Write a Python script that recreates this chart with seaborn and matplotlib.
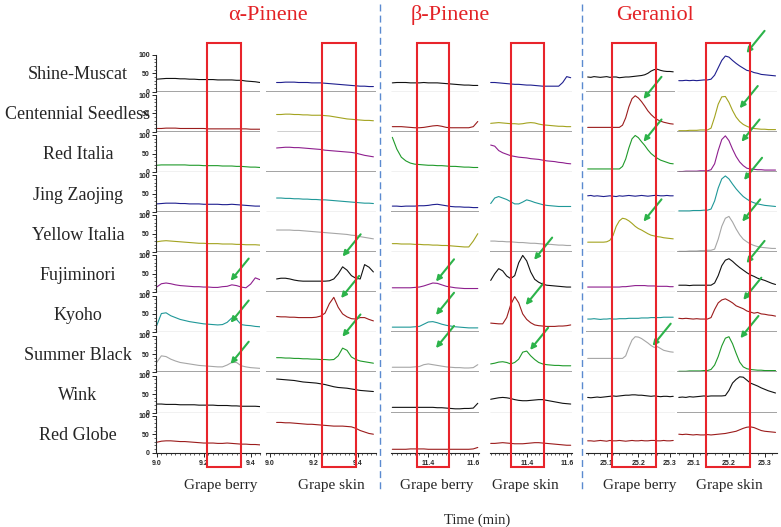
import matplotlib.pyplot as plt
import seaborn as sns
from matplotlib.patches import Rectangle
from matplotlib.lines import Line2D
from matplotlib.ticker import MultipleLocator
from matplotlib.transforms import blended_transform_factory

# ---------------------------------------------------------------------------
# Data (relative intensity, 0-100 per cultivar)
# ---------------------------------------------------------------------------
cultivars = ['Shine-Muscat', 'Centennial Seedless', 'Red Italia', 'Jing Zaojing',
             'Yellow Italia', 'Fujiminori', 'Kyoho', 'Summer Black', 'Wink', 'Red Globe']
compounds = ['α-Pinene', 'β-Pinene', 'Geraniol']
tissues = ['Grape berry', 'Grape skin']

# alpha-pinene, berry
t_apinene_berry = [9.00, 9.02, 9.04, 9.06, 9.08, 9.10, 9.12, 9.14, 9.16, 9.18, 9.20, 9.22,
                   9.24, 9.26, 9.28, 9.30, 9.32, 9.34, 9.36, 9.38, 9.40, 9.42, 9.44]
apinene_berry = [
    [34, 35, 36, 36, 36, 35, 35, 34, 34, 33, 33, 33, 33, 32, 32, 32, 32, 31, 31, 29, 28, 27, 25],
    [9, 9, 10, 10, 10, 9, 9, 9, 9, 9, 9, 8, 8, 8, 8, 8, 8, 8, 8, 8, 7, 7, 7],
    [18, 19, 19, 19, 19, 19, 19, 18, 18, 18, 17, 17, 17, 17, 16, 16, 16, 15, 15, 14, 13, 13, 12],
    [22, 23, 24, 24, 24, 23, 23, 22, 22, 22, 21, 21, 21, 21, 20, 20, 21, 20, 19, 18, 17, 16, 16],
    [28, 30, 31, 30, 29, 28, 27, 26, 25, 24, 24, 23, 23, 23, 22, 22, 22, 21, 21, 20, 20, 20, 19],
    [14, 23, 25, 23, 20, 18, 17, 16, 15, 15, 14, 14, 13, 13, 15, 16, 20, 18, 14, 12, 22, 39, 34],
    [18, 51, 53, 45, 40, 35, 32, 29, 27, 25, 23, 22, 21, 20, 21, 27, 39, 35, 21, 19, 18, 16, 15],
    [27, 45, 43, 36, 31, 27, 25, 23, 21, 19, 18, 17, 16, 15, 15, 20, 27, 27, 18, 15, 13, 12, 11],
    [23, 23, 22, 22, 22, 21, 21, 21, 21, 20, 20, 20, 20, 19, 19, 19, 18, 18, 17, 17, 17, 17, 16],
    [28, 31, 32, 32, 31, 30, 30, 29, 28, 27, 26, 26, 26, 25, 25, 26, 25, 24, 23, 23, 22, 22, 21],
]

# alpha-pinene, skin
t_apinene_skin = [9.03, 9.05, 9.07, 9.09, 9.11, 9.13, 9.15, 9.17, 9.19, 9.21, 9.23, 9.25,
                  9.27, 9.29, 9.31, 9.33, 9.35, 9.37, 9.39, 9.41, 9.43, 9.45, 9.47]
apinene_skin = [
    [25, 25, 26, 26, 26, 25, 25, 25, 24, 24, 24, 23, 22, 21, 20, 19, 18, 17, 16, 15, 15, 14, 14],
    [47, 47, 48, 48, 47, 47, 46, 46, 45, 45, 45, 44, 43, 41, 39, 37, 35, 34, 33, 32, 31, 31, 30],
    [65, 66, 67, 67, 66, 66, 65, 64, 63, 62, 61, 59, 58, 57, 56, 55, 54, 53, 51, 48, 45, 43, 41],
    [38, 38, 37, 37, 36, 36, 35, 35, 34, 34, 33, 33, 32, 31, 30, 29, 28, 27, 26, 25, 24, 24, 23],
    [60, 60, 60, 60, 59, 59, 58, 57, 56, 55, 54, 53, 52, 51, 50, 49, 48, 46, 45, 42, 40, 38, 36],
    [36, 38, 38, 36, 33, 31, 30, 30, 30, 30, 30, 30, 31, 36, 50, 69, 60, 45, 38, 36, 75, 68, 55],
    [43, 42, 42, 41, 41, 40, 40, 40, 40, 41, 44, 52, 78, 95, 68, 50, 42, 37, 36, 40, 40, 35, 31],
    [40, 40, 39, 39, 38, 38, 37, 37, 36, 36, 35, 35, 34, 35, 45, 66, 60, 42, 35, 31, 29, 27, 25],
    [91, 90, 89, 88, 87, 85, 83, 82, 81, 80, 78, 76, 73, 70, 68, 67, 66, 64, 62, 60, 59, 58, 57],
    [82, 82, 81, 81, 80, 79, 78, 77, 77, 76, 75, 74, 73, 72, 72, 72, 71, 70, 66, 60, 56, 52, 50],
]

# beta-pinene, berry
t_bpinene_berry = [11.24, 11.26, 11.28, 11.30, 11.32, 11.34, 11.36, 11.38, 11.40, 11.42,
                   11.44, 11.46, 11.48, 11.50, 11.52, 11.54, 11.56, 11.58, 11.60, 11.62]
bpinene_berry = [
    [24, 25, 25, 25, 24, 24, 24, 25, 24, 24, 24, 23, 22, 21, 20, 19, 18, 18, 17, 17],
    [14, 14, 14, 13, 12, 11, 11, 12, 14, 16, 17, 15, 12, 11, 11, 11, 11, 11, 14, 28],
    [94, 62, 40, 30, 24, 21, 20, 19, 18, 18, 17, 17, 16, 15, 15, 14, 13, 13, 12, 12],
    [16, 16, 15, 16, 16, 16, 17, 17, 18, 20, 21, 19, 17, 15, 14, 14, 13, 13, 12, 12],
    [23, 23, 22, 22, 22, 21, 21, 20, 20, 19, 19, 18, 18, 17, 16, 15, 14, 14, 30, 50],
    [12, 12, 12, 12, 12, 13, 14, 17, 21, 25, 24, 20, 16, 14, 12, 11, 10, 10, 10, 10],
    [14, 14, 14, 14, 14, 15, 16, 22, 28, 29, 26, 22, 19, 17, 15, 14, 13, 12, 12, 12],
    [14, 14, 14, 14, 14, 15, 16, 21, 23, 21, 19, 17, 15, 14, 13, 13, 12, 12, 13, 21],
    [14, 14, 14, 14, 14, 14, 14, 14, 14, 14, 13, 13, 12, 11, 10, 10, 11, 11, 12, 25],
    [9, 9, 9, 9, 10, 10, 10, 10, 9, 9, 9, 9, 9, 9, 9, 9, 9, 9, 10, 14],
]

# beta-pinene, skin
t_bpinene_skin = [11.22, 11.24, 11.26, 11.28, 11.30, 11.32, 11.34, 11.36, 11.38, 11.40, 11.42,
                  11.44, 11.46, 11.48, 11.50, 11.52, 11.54, 11.56, 11.58, 11.60, 11.62]
bpinene_skin = [
    [25, 25, 24, 23, 22, 21, 20, 20, 19, 18, 18, 17, 16, 15, 15, 15, 15, 15, 25, 41, 38],
    [23, 24, 25, 24, 23, 22, 22, 21, 22, 24, 25, 24, 21, 19, 18, 17, 16, 15, 15, 14, 14],
    [73, 70, 58, 52, 48, 44, 42, 40, 39, 38, 36, 35, 34, 32, 30, 29, 28, 26, 25, 23, 22],
    [23, 38, 42, 38, 34, 28, 22, 22, 27, 33, 30, 26, 23, 20, 18, 17, 16, 15, 15, 15, 15],
    [30, 30, 29, 29, 28, 28, 27, 26, 26, 25, 24, 24, 23, 22, 21, 21, 20, 19, 19, 18, 18],
    [32, 50, 64, 58, 44, 37, 45, 80, 100, 85, 55, 35, 27, 22, 19, 18, 17, 16, 15, 14, 14],
    [25, 24, 23, 23, 40, 75, 97, 80, 50, 35, 26, 20, 18, 17, 16, 16, 16, 17, 17, 18, 20],
    [23, 25, 28, 29, 27, 23, 27, 36, 55, 58, 45, 35, 27, 23, 21, 20, 19, 19, 18, 18, 18],
    [36, 38, 40, 41, 40, 38, 35, 33, 32, 32, 33, 34, 35, 35, 33, 31, 29, 27, 25, 24, 23],
    [25, 25, 26, 27, 26, 25, 24, 24, 24, 25, 26, 27, 27, 26, 25, 24, 23, 22, 21, 20, 20],
]

# geraniol, berry
t_geraniol_berry = [25.04, 25.05, 25.06, 25.07, 25.08, 25.09, 25.10, 25.11, 25.12, 25.13,
                    25.14, 25.15, 25.16, 25.17, 25.18, 25.19, 25.20, 25.21, 25.22, 25.23,
                    25.24, 25.25, 25.26, 25.27, 25.28, 25.29, 25.30, 25.31]
geraniol_berry = [
    [40, 39, 41, 40, 39, 40, 41, 39, 40, 40, 38, 39, 40, 40, 41, 42, 43, 44, 46, 50, 56, 60, 61, 58, 56, 55, 55, 54],
    [12, 12, 12, 12, 12, 12, 12, 12, 12, 12, 12, 18, 38, 68, 90, 98, 92, 82, 70, 57, 47, 39, 33, 29, 26, 24, 22, 21],
    [8, 8, 8, 8, 8, 8, 8, 8, 8, 8, 8, 15, 35, 65, 90, 99, 93, 82, 72, 60, 50, 43, 37, 32, 29, 26, 23, 22],
    [44, 45, 43, 44, 43, 42, 43, 44, 43, 42, 44, 43, 44, 45, 44, 43, 44, 45, 44, 43, 44, 45, 45, 44, 44, 45, 44, 44],
    [27, 27, 27, 27, 27, 27, 28, 32, 45, 70, 85, 92, 90, 85, 78, 70, 64, 60, 55, 50, 46, 44, 42, 41, 39, 38, 37, 36],
    [14, 14, 14, 14, 14, 14, 14, 14, 14, 14, 14, 15, 15, 16, 17, 18, 18, 18, 18, 17, 17, 17, 16, 16, 16, 16, 15, 15],
    [36, 36, 37, 36, 35, 36, 36, 37, 36, 36, 37, 37, 37, 38, 38, 38, 38, 39, 39, 39, 40, 40, 40, 40, 41, 41, 41, 41],
    [38, 38, 38, 38, 38, 38, 38, 38, 38, 38, 38, 38, 45, 68, 88, 97, 96, 92, 86, 80, 73, 68, 70, 65, 60, 58, 56, 55],
    [41, 40, 41, 42, 41, 42, 43, 44, 45, 44, 45, 46, 47, 47, 48, 48, 47, 47, 46, 45, 44, 45, 44, 43, 44, 44, 43, 44],
    [32, 32, 31, 32, 33, 32, 31, 33, 32, 32, 33, 32, 31, 32, 33, 32, 32, 33, 32, 32, 33, 33, 32, 32, 33, 32, 32, 33],
]

# geraniol, skin
t_geraniol_skin = [25.06, 25.07, 25.08, 25.09, 25.10, 25.11, 25.12, 25.13, 25.14, 25.15,
                   25.16, 25.17, 25.18, 25.19, 25.20, 25.21, 25.22, 25.23, 25.24, 25.25,
                   25.26, 25.27, 25.28, 25.29, 25.30, 25.31, 25.32, 25.33]
geraniol_skin = [
    [30, 30, 31, 30, 31, 30, 31, 32, 32, 34, 45, 65, 85, 97, 94, 85, 77, 70, 64, 58, 56, 52, 50, 47, 46, 45, 44, 43],
    [3, 3, 3, 4, 4, 4, 5, 5, 5, 10, 40, 75, 95, 96, 80, 58, 40, 28, 20, 15, 11, 9, 8, 7, 7, 6, 6, 6],
    [1, 1, 2, 2, 2, 2, 3, 3, 3, 6, 22, 58, 88, 98, 85, 62, 42, 27, 17, 10, 8, 7, 6, 6, 5, 5, 5, 5],
    [3, 3, 3, 3, 4, 4, 4, 5, 5, 8, 30, 65, 90, 98, 90, 76, 63, 52, 42, 35, 29, 25, 22, 20, 18, 17, 16, 15],
    [2, 2, 2, 3, 3, 3, 4, 4, 5, 5, 8, 35, 70, 92, 97, 82, 63, 47, 35, 28, 22, 18, 15, 13, 12, 11, 10, 10],
    [19, 19, 19, 18, 19, 19, 19, 19, 19, 19, 25, 45, 72, 87, 91, 84, 75, 67, 60, 53, 47, 43, 38, 35, 32, 28, 24, 21],
    [38, 37, 38, 37, 36, 37, 36, 36, 36, 40, 62, 80, 88, 91, 86, 80, 72, 68, 64, 58, 55, 52, 54, 50, 49, 47, 46, 44],
    [3, 3, 3, 4, 4, 4, 4, 5, 5, 8, 20, 43, 72, 93, 97, 78, 52, 28, 15, 10, 8, 7, 6, 6, 5, 5, 5, 5],
    [41, 42, 41, 43, 42, 43, 44, 45, 44, 45, 45, 45, 45, 46, 60, 80, 90, 97, 96, 88, 80, 76, 72, 67, 63, 59, 56, 53],
    [50, 49, 50, 49, 48, 49, 48, 48, 49, 48, 49, 50, 51, 52, 54, 56, 58, 62, 66, 69, 70, 68, 64, 60, 58, 57, 56, 55],
]

# integration windows (red boxes), min
windows = [(9.215, 9.357), (9.235, 9.39), (11.348, 11.493),
           (11.322, 11.487), (25.118, 25.256), (25.135, 25.258)]

# marked peaks (green arrows): (cultivar index, time, intensity)
peaks_apinene_berry = [(5, 9.315, 31), (6, 9.315, 26), (7, 9.315, 23)]
peaks_apinene_skin = [(5, 9.330, 97), (6, 9.323, 93), (7, 9.329, 97)]
peaks_bpinene_berry = [(5, 11.434, 29), (6, 11.434, 47), (7, 11.434, 66)]
peaks_bpinene_skin = [(5, 11.437, 88), (6, 11.395, 74), (7, 11.417, 61)]
peaks_geraniol_berry = [(1, 25.216, 89), (2, 25.216, 82), (4, 25.216, 83), (7, 25.245, 72)]
peaks_geraniol_skin = [(0, 25.249, 105), (1, 25.230, 64), (2, 25.235, 82), (3, 25.242, 87),
                       (4, 25.237, 83), (5, 25.249, 79), (6, 25.240, 88), (7, 25.232, 93)]

# ---------------------------------------------------------------------------
# Styling
# ---------------------------------------------------------------------------
sns.set_style('ticks')
plt.rcParams['font.family'] = ['Liberation Serif', 'DejaVu Serif']

berry_colors = ['#111111', '#9b1c1c', '#1f9a2a', '#1f1f8f', '#a3a31f',
                '#8e1f8e', '#1f9898', '#a6a6a6', '#111111', '#9b1c1c']
skin_colors = ['#1f1f8f', '#a3a31f', '#8e1f8e', '#1f9898', '#a6a6a6',
               '#111111', '#9b1c1c', '#1f9a2a', '#111111', '#9b1c1c']

columns = [
    dict(t=t_apinene_berry, y=apinene_berry, colors=berry_colors, peaks=peaks_apinene_berry,
         px=(155.5, 260.0), xlim=(8.995, 9.44), ticks=[9.0, 9.2, 9.4], minor=0.02, base='ggkggkkgk'),
    dict(t=t_apinene_skin, y=apinene_skin, colors=skin_colors, peaks=peaks_apinene_skin,
         px=(265.6, 375.6), xlim=(8.98, 9.48), ticks=[9.0, 9.2, 9.4], minor=0.02, base='gkgkggkgk'),
    dict(t=t_bpinene_berry, y=bpinene_berry, colors=berry_colors, peaks=peaks_bpinene_berry,
         px=(391.2, 478.9), xlim=(11.235, 11.625), ticks=[11.4, 11.6], minor=0.02, base='kgkgkkggg'),
    dict(t=t_bpinene_skin, y=bpinene_skin, colors=skin_colors, peaks=peaks_bpinene_skin,
         px=(489.7, 571.7), xlim=(11.215, 11.625), ticks=[11.4, 11.6], minor=0.02, base='kgkkgkkgk'),
    dict(t=t_geraniol_berry, y=geraniol_berry, colors=berry_colors, peaks=peaks_geraniol_berry,
         px=(586.1, 674.8), xlim=(25.035, 25.315), ticks=[25.1, 25.2, 25.3], minor=0.02, base='gkkkkkgkk'),
    dict(t=t_geraniol_skin, y=geraniol_skin, colors=skin_colors, peaks=peaks_geraniol_skin,
         px=(677.0, 777.3), xlim=(25.055, 25.335), ticks=[25.1, 25.2, 25.3], minor=0.02, base='kggkggggg'),
]

W, H = 781, 527
row_bottom0, row_h = 91.7, 40.1
fig = plt.figure(figsize=(W / 100, H / 100), dpi=100)

def fx(x):
    return x / W

def fy(y):
    return 1 - y / H

arrow_green = '#2cb34a'
axes_grid = []
for c, col in enumerate(columns):
    col_axes = []
    for r in range(len(cultivars)):
        bottom_px = row_bottom0 + row_h * r
        ax = fig.add_axes([fx(col['px'][0]), fy(bottom_px),
                           fx(col['px'][1] - col['px'][0]), row_h / H])
        ax.set_facecolor('none')
        sns.lineplot(x=col['t'], y=col['y'][r], ax=ax, color=col['colors'][r],
                     lw=0.8, estimator=None, sort=False)
        ax.set_xlim(*col['xlim'])
        ax.set_ylim(0, 109)
        ax.set_xlabel('')
        ax.set_ylabel('')
        for s in ['top', 'right', 'left', 'bottom']:
            ax.spines[s].set_visible(False)
        ax.set_yticks([])
        ax.set_xticks([])

        last = r == len(cultivars) - 1
        if not last:
            bc = '#8a8a8a' if col['base'][r] == 'g' else '#111111'
            if c == 1 and r == 1:
                # only a partial baseline is drawn in this panel
                ax.plot([9.03, 9.235], [0, 0], color=bc, lw=1.0)
            else:
                ax.axhline(0, color=bc, lw=1.1 if bc != '#111111' else 0.8)
        else:
            ax.spines['bottom'].set_visible(True)
            ax.spines['bottom'].set_linewidth(0.8)
            ax.set_xticks(col['ticks'])
            ax.set_xticklabels([f'{t:.1f}' for t in col['ticks']])
            ax.xaxis.set_minor_locator(MultipleLocator(col['minor']))
            ax.tick_params(axis='x', which='major', length=3, width=0.7, labelsize=5, pad=2)
            ax.tick_params(axis='x', which='minor', length=1.5, width=0.5)
            for lab in ax.get_xticklabels():
                lab.set_fontfamily('Liberation Sans')
                lab.set_fontweight('bold')

        if c == 0:
            ax.spines['left'].set_visible(True)
            ax.spines['left'].set_linewidth(0.8)
            ax.spines['left'].set_bounds(0, 100)
            ax.set_yticks([0, 50, 100])
            ax.set_yticklabels(['0', '50', '100'])
            ax.yaxis.set_minor_locator(MultipleLocator(10))
            ax.tick_params(axis='y', which='major', length=3, width=0.7, labelsize=5, pad=1)
            ax.tick_params(axis='y', which='minor', length=1.5, width=0.5)
            for lab in ax.get_yticklabels():
                lab.set_fontfamily('Liberation Sans')
                lab.set_fontweight('bold')

        col_axes.append(ax)
    axes_grid.append(col_axes)

# green arrows pointing at the compound peaks
for c, col in enumerate(columns):
    for r, t, v in col['peaks']:
        axes_grid[c][r].annotate('', xy=(t, v), xytext=(13, 16), textcoords='offset points',
                                 annotation_clip=False,
                                 arrowprops=dict(arrowstyle='-|>', color=arrow_green, lw=1.5,
                                                 mutation_scale=8, shrinkA=0, shrinkB=0))

# red integration windows spanning all cultivars
for c, col in enumerate(columns):
    x0, x1 = windows[c]
    trans = blended_transform_factory(axes_grid[c][-1].transData, fig.transFigure)
    fig.add_artist(Rectangle((x0, fy(467)), x1 - x0, fy(43) - fy(467), transform=trans,
                             fill=False, edgecolor='#e8242b', lw=1.5, zorder=5))

# dashed separators between compounds
for xs, y1 in [(380, 492), (582, 490)]:
    fig.add_artist(Line2D([fx(xs), fx(xs)], [fy(4), fy(y1)], transform=fig.transFigure,
                          color='#5b8ad0', lw=1.0, ls=(0, (5, 3))))

# compound titles
for name, xc in zip(compounds, [268, 450, 655]):
    fig.text(fx(xc), fy(15), name, color='#e32226', fontsize=16, ha='center', va='center')

# cultivar labels
for r, name in enumerate(cultivars):
    fig.text(fx(78), fy(row_bottom0 + row_h * r - 17), name, fontsize=13,
             ha='center', va='center')

# tissue labels
for xc, name in zip([221, 331, 437, 525, 640, 729], tissues * 3):
    fig.text(fx(xc), fy(486), name, fontsize=11, ha='center', va='center')

fig.text(fx(477), fy(520), 'Time (min)', fontsize=10.5, ha='center', va='center')

fig.savefig('out.png', dpi=100)
